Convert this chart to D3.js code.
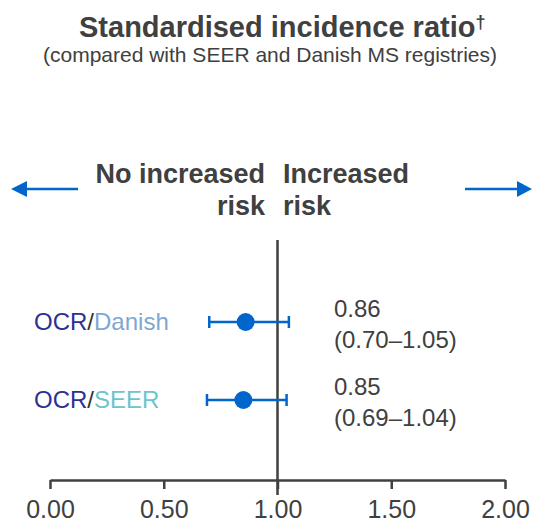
<!DOCTYPE html>
<html>
<head>
<meta charset="utf-8">
<script src="https://cdn.jsdelivr.net/npm/d3@7"></script>
<style>
  html, body { margin: 0; padding: 0; background: #fff; }
  svg { display: block; font-family: "Liberation Sans", Arial, Helvetica, sans-serif; }
</style>
</head>
<body>
<svg id="chart" width="533" height="522"></svg>
<script>
// ---- data ----
const comparators = ["Danish", "SEER"];
const estimates = [0.86, 0.85];
const lowerCI = [0.70, 0.69];
const upperCI = [1.05, 1.04];
const xTicks = [0, 0.5, 1, 1.5, 2];
const titleText = "Standardised incidence ratio";
const subtitleText = "(compared with SEER and Danish MS registries)";
const leftLabel = ["No increased", "risk"];
const rightLabel = ["Increased", "risk"];

// ---- colours ----
const blue = "#0066cc";
const ink = "#404040";
const ocrColor = "#2e3192";
const refColors = { Danish: "#7fa7d4", SEER: "#6cc5cb" };

const svg = d3.select("#chart");

const x = d3.scaleLinear().domain([0, 2]).range([50, 505]);
const y = d3.scalePoint().domain(comparators).range([322, 400]);

// Title
const title = svg.append("text")
  .attr("x", 79).attr("y", 37)
  .attr("text-anchor", "start")
  .attr("font-size", 29).attr("font-weight", "bold")
  .attr("fill", ink);
title.append("tspan").text(titleText);
title.append("tspan").attr("font-size", 18).attr("dy", -9).text("\u2020");

svg.append("text")
  .attr("x", 270).attr("y", 62)
  .attr("text-anchor", "middle")
  .attr("font-size", 21)
  .attr("fill", ink)
  .text(subtitleText);

// Direction labels
const dirG = svg.append("g").attr("font-size", 27).attr("font-weight", "bold").attr("fill", ink);
leftLabel.forEach((t, i) => {
  dirG.append("text").attr("x", 265).attr("y", 183 + i * 31.5)
    .attr("text-anchor", "end").text(t);
});
rightLabel.forEach((t, i) => {
  dirG.append("text").attr("x", 283).attr("y", 183 + i * 31.5)
    .attr("text-anchor", "start").text(t);
});

// Arrows
const arrowY = 189;
svg.append("line").attr("x1", 26).attr("x2", 78).attr("y1", arrowY).attr("y2", arrowY)
  .attr("stroke", blue).attr("stroke-width", 2.5);
svg.append("path").attr("d", `M11,${arrowY} L27,${arrowY - 8} L27,${arrowY + 8} Z`).attr("fill", blue);
svg.append("line").attr("x1", 465).attr("x2", 518).attr("y1", arrowY).attr("y2", arrowY)
  .attr("stroke", blue).attr("stroke-width", 2.5);
svg.append("path").attr("d", `M532,${arrowY} L517,${arrowY - 8} L517,${arrowY + 8} Z`).attr("fill", blue);

// Axis
const axisY = 480;
const axis = d3.axisBottom(x).tickValues(xTicks).tickFormat(d3.format(".2f"))
  .tickSize(9).tickSizeOuter(0).tickPadding(11);
const axG = svg.append("g").attr("transform", `translate(0,${axisY})`).call(axis);
axG.select(".domain").attr("stroke", ink).attr("stroke-width", 2.5);
axG.selectAll(".tick line").attr("stroke", ink).attr("stroke-width", 2.5);
axG.selectAll(".tick text").attr("fill", ink).attr("font-size", 25)
  .attr("font-family", "\"Liberation Sans\", Arial, sans-serif");

// Reference line at 1.00
svg.append("line")
  .attr("x1", x(1)).attr("x2", x(1))
  .attr("y1", 240).attr("y2", 495)
  .attr("stroke", ink).attr("stroke-width", 2.5);

// Rows
const rows = comparators.map((c, i) => ({ c, est: estimates[i], lo: lowerCI[i], hi: upperCI[i] }));
const fmt = d3.format(".2f");

const rowG = svg.selectAll(".row").data(rows).enter().append("g").attr("class", "row");

rowG.append("line")
  .attr("x1", d => x(d.lo)).attr("x2", d => x(d.hi))
  .attr("y1", d => y(d.c)).attr("y2", d => y(d.c))
  .attr("stroke", blue).attr("stroke-width", 2.5);
rowG.append("line")
  .attr("x1", d => x(d.lo)).attr("x2", d => x(d.lo))
  .attr("y1", d => y(d.c) - 6).attr("y2", d => y(d.c) + 6)
  .attr("stroke", blue).attr("stroke-width", 2.5);
rowG.append("line")
  .attr("x1", d => x(d.hi)).attr("x2", d => x(d.hi))
  .attr("y1", d => y(d.c) - 6).attr("y2", d => y(d.c) + 6)
  .attr("stroke", blue).attr("stroke-width", 2.5);
rowG.append("circle")
  .attr("cx", d => x(d.est)).attr("cy", d => y(d.c)).attr("r", 9)
  .attr("fill", blue);

// Row labels
const lab = rowG.append("text")
  .attr("x", 34).attr("y", d => y(d.c) + 8)
  .attr("font-size", 24);
lab.append("tspan").attr("fill", ocrColor).text("OCR");
lab.append("tspan").attr("fill", "#333333").text("/");
lab.append("tspan").attr("fill", d => refColors[d.c]).text(d => d.c);

// Value labels
rowG.append("text")
  .attr("x", 334).attr("y", d => y(d.c) - 5.5)
  .attr("font-size", 24).attr("fill", ink)
  .text(d => fmt(d.est));
rowG.append("text")
  .attr("x", 334).attr("y", d => y(d.c) + 25.5)
  .attr("font-size", 24).attr("fill", ink)
  .text(d => `(${fmt(d.lo)}\u2013${fmt(d.hi)})`);
</script>
</body>
</html>
